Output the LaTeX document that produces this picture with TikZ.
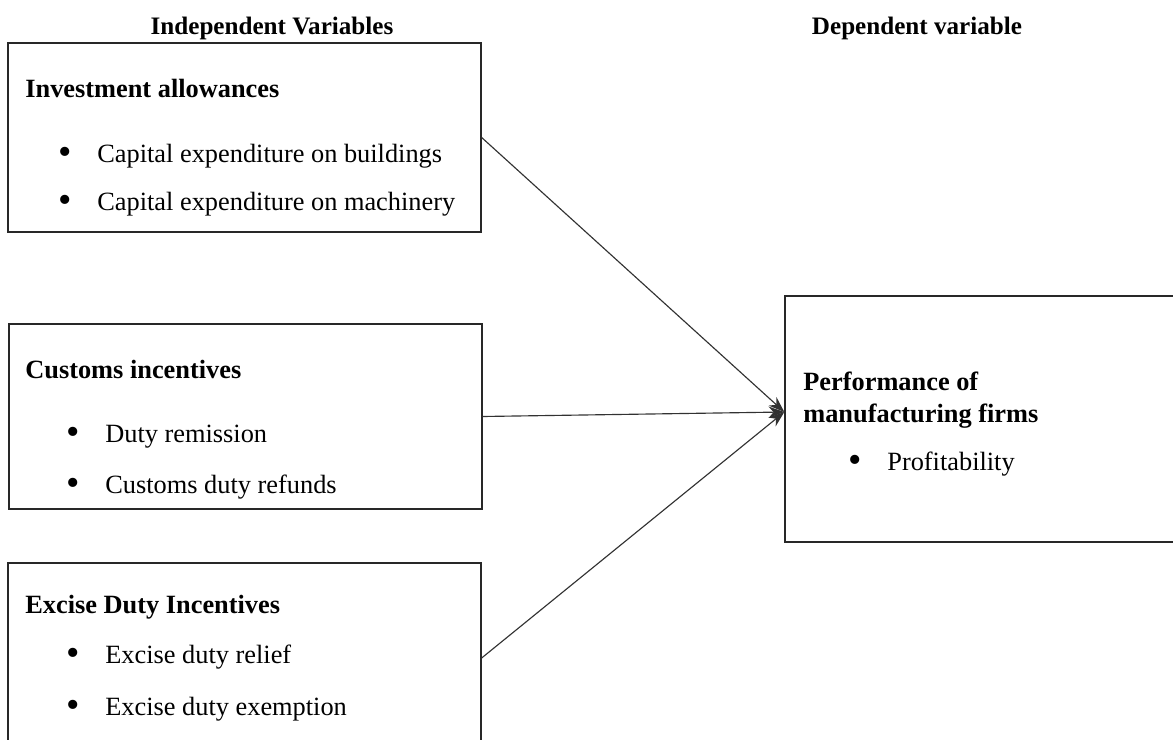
\documentclass[tikz,border=0pt]{standalone}
\usepackage{fontspec}
\setmainfont{Liberation Serif}
\usepackage{tikz}
\usetikzlibrary{arrows.meta,calc}
\definecolor{fwline}{RGB}{40,40,40}
\definecolor{fwarrow}{RGB}{50,50,50}
\newcommand{\bitem}[1]{\makebox[0.78cm][l]{\raisebox{-1.2pt}{\scalebox{1.45}{\textbullet}}}#1}

\begin{document}
\begin{tikzpicture}[
  x=0.02cm, y=-0.02cm,
  box/.style={rectangle, draw=fwline, line width=0.8pt, inner sep=0pt},
  head/.style={inner sep=0pt, anchor=base, font=\fontsize{14.3pt}{17pt}\selectfont\bfseries},
  title/.style={inner sep=0pt, anchor=base west, font=\fontsize{15pt}{18pt}\selectfont\bfseries},
  entry/.style={inner sep=0pt, anchor=base west, font=\fontsize{15pt}{18pt}\selectfont},
  arrow/.style={-{Stealth[length=9pt,width=6.5pt]}, line width=0.65pt, fwarrow}
]
\clip (0,0) rectangle (1173,740);

% Column headings
\node[head] (indep) at (272,35) {Independent Variables};
\node[head] (dep) at (917,35) {Dependent variable};

% Independent variables
\node[box, minimum width=9.46cm, minimum height=3.78cm] (inv) at (244.5,137.5) {};
\node[title] (invtitle) at (25,98) {Investment allowances};
\node[entry] (inv1) at (58,162) {\bitem{Capital expenditure on buildings}};
\node[entry] (inv2) at (58,210) {\bitem{Capital expenditure on machinery}};

\node[box, minimum width=9.46cm, minimum height=3.70cm] (cus) at (245.5,416.5) {};
\node[title] (custitle) at (25,378) {Customs incentives};
\node[entry] (cus1) at (66,442) {\bitem{Duty remission}};
\node[entry] (cus2) at (66,493) {\bitem{Customs duty refunds}};

\node[box, minimum width=9.46cm, minimum height=3.80cm] (exc) at (244.5,658) {};
\node[title] (exctitle) at (25,613) {Excise Duty Incentives};
\node[entry] (exc1) at (66,663) {\bitem{Excise duty relief}};
\node[entry] (exc2) at (66,715) {\bitem{Excise duty exemption}};

% Dependent variable
\node[box, minimum width=8.0cm, minimum height=4.92cm] (perf) at (985,419) {};
\node[title] (perftitle) at (803,390) {Performance of};
\node[title] (perftitle2) at (803,422) {manufacturing firms};
\node[entry] (perf1) at (848,470) {\bitem{Profitability}};

% Links
\coordinate (hub) at ($(perf.west)+(0,-7)$);
\draw[arrow] (inv.east) -- (hub);
\draw[arrow] (cus.east) -- (hub);
\draw[arrow] (exc.east) -- (hub);

\end{tikzpicture}
\end{document}
